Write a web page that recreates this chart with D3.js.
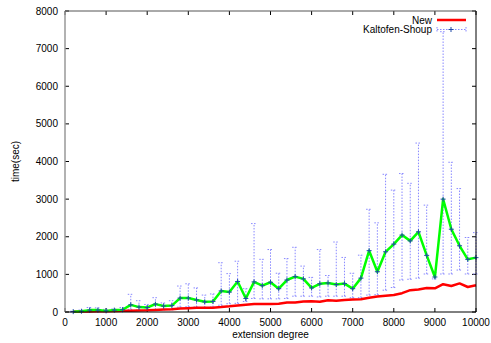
<!DOCTYPE html>
<html><head><meta charset="utf-8">
<script src="https://cdn.jsdelivr.net/npm/d3@7"></script>
<style>body{margin:0;background:#fff}svg{display:block}text{font-family:"Liberation Sans",Arial,sans-serif;font-size:10px;fill:#000}</style>
</head><body>
<script>
const degrees = [200,400,600,800,1000,1200,1400,1600,1800,2000,2200,2400,2600,2800,3000,3200,3400,3600,3800,4000,4200,4400,4600,4800,5000,5200,5400,5600,5800,6000,6200,6400,6600,6800,7000,7200,7400,7600,7800,8000,8200,8400,8600,8800,9000,9200,9400,9600,9800,10000];
const newTimes = [5,10,15,20,20,25,30,35,40,45,55,65,70,90,100,110,110,115,130,150,175,195,210,215,210,220,250,255,280,285,270,310,300,320,330,340,380,410,430,450,500,580,600,640,630,740,690,760,665,710];
const ksMean = [10,20,50,50,30,50,60,190,130,120,210,160,170,370,370,320,270,280,560,530,810,360,800,700,790,620,850,940,880,640,750,770,730,755,620,900,1630,1070,1600,1805,2045,1890,2130,1505,930,3000,2200,1760,1400,1445];
const ksUpper = [20,50,120,110,70,80,120,470,300,200,380,240,300,690,750,640,450,480,1310,1020,1350,620,2350,1400,1660,1030,1420,1720,1220,920,1660,970,1860,1450,1030,1510,2730,2370,3660,3240,3680,3420,4490,2840,1050,7450,3980,3280,1980,2110];
const ksLower = [0,0,10,10,5,10,15,70,50,50,60,60,60,130,140,130,120,130,180,220,230,280,360,350,350,350,360,420,420,420,400,420,420,420,380,380,450,460,580,650,850,870,900,1010,880,1010,1010,1115,1010,1010];
const xTicks = [0,1000,2000,3000,4000,5000,6000,7000,8000,9000,10000];
const yTicks = [0,1000,2000,3000,4000,5000,6000,7000,8000];
const seriesNames = ["New","Kaltofen-Shoup"];

const W=491,H=343;
const svg=d3.select("body").append("svg").attr("width",W).attr("height",H);
const x=d3.scaleLinear().domain([0,10000]).range([65,476]);
const y=d3.scaleLinear().domain([0,8000]).range([312,11]);
const L=x.range()[0],R=x.range()[1],B=y.range()[0],T=y.range()[1];

const g=svg.append("g");
xTicks.forEach(t=>{
  g.append("line").attr("x1",x(t)).attr("x2",x(t)).attr("y1",B).attr("y2",B-4).attr("stroke","#000");
  g.append("line").attr("x1",x(t)).attr("x2",x(t)).attr("y1",T).attr("y2",T+4).attr("stroke","#000");
  g.append("text").attr("x",x(t)).attr("y",B+14).attr("text-anchor","middle").text(t);
});
yTicks.forEach(t=>{
  g.append("line").attr("x1",L).attr("x2",L+4).attr("y1",y(t)).attr("y2",y(t)).attr("stroke","#000");
  g.append("line").attr("x1",R).attr("x2",R-4).attr("y1",y(t)).attr("y2",y(t)).attr("stroke","#000");
  g.append("text").attr("x",L-7).attr("y",y(t)).attr("dy","0.35em").attr("text-anchor","end").text(t);
});

const eb=svg.append("g").attr("stroke","#8888ff").attr("stroke-width",1).attr("stroke-dasharray","1.5,1.5").attr("fill","none");
degrees.forEach((d,i)=>{
  const cx=x(d);
  eb.append("line").attr("x1",cx).attr("x2",cx).attr("y1",y(ksLower[i])).attr("y2",y(ksUpper[i]));
  eb.append("line").attr("x1",cx-3).attr("x2",cx+3).attr("y1",y(ksLower[i])).attr("y2",y(ksLower[i]));
  eb.append("line").attr("x1",cx-3).attr("x2",cx+3).attr("y1",y(ksUpper[i])).attr("y2",y(ksUpper[i]));
});

const line=d3.line();
svg.append("path").attr("d",line(degrees.map((d,i)=>[x(d),y(newTimes[i])])))
  .attr("fill","none").attr("stroke","#ff0000").attr("stroke-width",2.5).attr("stroke-linejoin","round");
svg.append("path").attr("d",line(degrees.map((d,i)=>[x(d),y(ksMean[i])])))
  .attr("fill","none").attr("stroke","#00ff00").attr("stroke-width",2.5).attr("stroke-linejoin","round");
const pm=svg.append("g").attr("stroke","#1f4aa8").attr("stroke-width",1);
degrees.forEach((d,i)=>{
  const cx=x(d),cy=y(ksMean[i]);
  pm.append("line").attr("x1",cx-2.5).attr("x2",cx+2.5).attr("y1",cy).attr("y2",cy);
  pm.append("line").attr("x1",cx).attr("x2",cx).attr("y1",cy-2.5).attr("y2",cy+2.5);
});

svg.append("line").attr("x1",L).attr("x2",L).attr("y1",T).attr("y2",B).attr("stroke","#999").attr("stroke-width",1.5);
svg.append("line").attr("x1",L).attr("x2",R).attr("y1",T).attr("y2",T).attr("stroke","#555").attr("stroke-width",1);
svg.append("line").attr("x1",R).attr("x2",R).attr("y1",T).attr("y2",B).attr("stroke","#000").attr("stroke-width",1);
svg.append("line").attr("x1",L).attr("x2",R).attr("y1",B).attr("y2",B).attr("stroke","#000").attr("stroke-width",1);

svg.append("text").attr("x",432).attr("y",20).attr("dy","0.35em").attr("text-anchor","end").text(seriesNames[0]);
svg.append("line").attr("x1",437).attr("x2",466).attr("y1",20).attr("y2",20).attr("stroke","#ff0000").attr("stroke-width",2.5);
svg.append("text").attr("x",432).attr("y",29.5).attr("dy","0.35em").attr("text-anchor","end").text(seriesNames[1]);
const lg=svg.append("g").attr("stroke","#8888ff").attr("stroke-dasharray","1.5,1.5");
lg.append("line").attr("x1",437).attr("x2",466).attr("y1",29.5).attr("y2",29.5);
lg.append("line").attr("x1",437).attr("x2",437).attr("y1",27).attr("y2",32);
lg.append("line").attr("x1",466).attr("x2",466).attr("y1",27).attr("y2",32);
svg.append("line").attr("x1",448.5).attr("x2",453.5).attr("y1",29.5).attr("y2",29.5).attr("stroke","#1f4aa8");
svg.append("line").attr("x1",451).attr("x2",451).attr("y1",27).attr("y2",32).attr("stroke","#1f4aa8");

svg.append("text").attr("x",(L+R)/2).attr("y",338).attr("text-anchor","middle").text("extension degree");
svg.append("text").attr("transform","translate(15,"+((T+B)/2)+") rotate(-90)").attr("text-anchor","middle").attr("dy","0.35em").text("time(sec)");
</script>
</body></html>
